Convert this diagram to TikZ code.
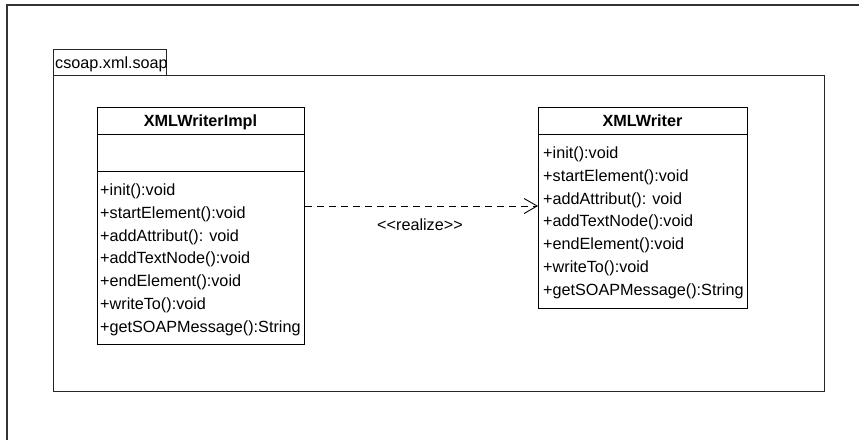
\documentclass[tikz,border=0pt]{standalone}
\usepackage{fontspec}
\setmainfont{Liberation Sans}
\usetikzlibrary{arrows.meta}
\begin{document}
\begin{tikzpicture}[x=1pt,y=-1pt,
  frame/.style={draw=black!80, line width=1.1pt},
  pkgbox/.style={draw=black!85, line width=1pt, anchor=north west, inner sep=0pt},
  umlbox/.style={draw=black, line width=0.9pt, anchor=north west, inner sep=0pt},
  sep/.style={draw=black, line width=0.9pt},
  txt/.style={inner sep=0pt, font=\fontsize{16.2}{19}\selectfont},
  member/.style={txt, anchor=base west},
  classname/.style={txt, anchor=base, font=\fontsize{16.2}{19}\selectfont\bfseries},
  realize/.style={draw=black, line width=0.9pt, dash pattern=on 7pt off 5pt,
    -{Straight Barb[length=13pt,width=15pt,line width=0.9pt]}}]
\useasboundingbox (0,0) rectangle (859,440);

% outer diagram frame (top and left edges)
\coordinate (ftr) at (859,5);
\coordinate (ftl) at (7,5);
\coordinate (fbl) at (7,440);
\draw[frame] (ftr) -- (ftl) -- (fbl);

% package
\node[pkgbox, minimum width=113pt, minimum height=26pt] (tab) at (53,49) {};
\node[member] (pkgname) at (55,68) {csoap.xml.soap};
\node[pkgbox, minimum width=771pt, minimum height=316pt] (pkg) at (53,75) {};

% class XMLWriterImpl
\node[umlbox, minimum width=207pt, minimum height=237pt] (impl) at (97,107) {};
\node[classname] (implname) at (200.5,126.5) {XMLWriterImpl};
\draw[sep] (impl.west |- 0,134) -- (impl.east |- 0,134);
\draw[sep] (impl.west |- 0,171) -- (impl.east |- 0,171);
\node[member] (i1) at (100,195.5) {+init():void};
\node[member] (i2) at (100,218.3) {+startElement():void};
\node[member] (i3) at (100,241.1) {+addAttribut(): void};
\node[member] (i4) at (100,263.9) {+addTextNode():void};
\node[member] (i5) at (100,286.7) {+endElement():void};
\node[member] (i6) at (100,309.5) {+writeTo():void};
\node[member] (i7) at (100,332.3) {+getSOAPMessage():String};

% interface XMLWriter
\node[umlbox, minimum width=209pt, minimum height=201pt] (writer) at (538,107) {};
\node[classname] (writername) at (642.5,126.5) {XMLWriter};
\draw[sep] (writer.west |- 0,134) -- (writer.east |- 0,134);
\node[member] (w1) at (543,158.5) {+init():void};
\node[member] (w2) at (543,181.3) {+startElement():void};
\node[member] (w3) at (543,204.1) {+addAttribut(): void};
\node[member] (w4) at (543,226.9) {+addTextNode():void};
\node[member] (w5) at (543,249.7) {+endElement():void};
\node[member] (w6) at (543,272.5) {+writeTo():void};
\node[member] (w7) at (543,295.3) {+getSOAPMessage():String};

% realization
\draw[realize] (impl.east |- 0,206) -- (writer.west |- 0,206);
\node[txt] (rlabel) at (420,225) {<{}<realize>{}>};
\end{tikzpicture}
\end{document}
